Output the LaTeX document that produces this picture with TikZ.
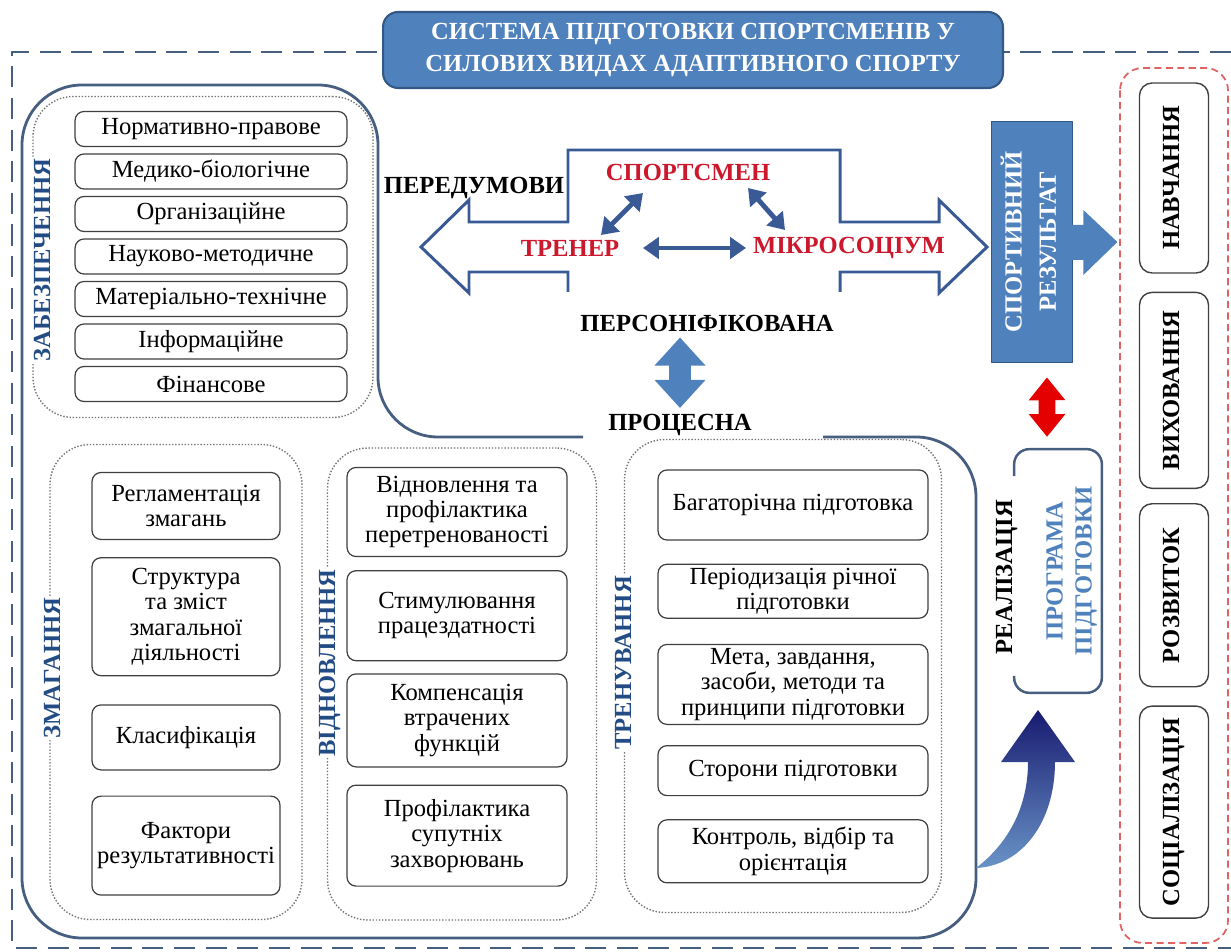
\documentclass[tikz,border=0pt]{standalone}
\usepackage{fontspec}
\setmainfont{Liberation Serif}
\usepackage{tikz}
\usetikzlibrary{arrows.meta, calc, positioning, shapes.geometric}

\definecolor{framegray}{RGB}{70,94,128}
\definecolor{boxblue}{RGB}{79,129,189}
\definecolor{boxedge}{RGB}{52,88,134}
\definecolor{labelblue}{RGB}{36,76,132}
\definecolor{arrowblue}{RGB}{58,90,150}
\definecolor{textred}{RGB}{204,24,44}
\definecolor{navyblue}{RGB}{24,26,112}
\definecolor{dashred}{RGB}{224,98,98}

\newcommand{\diagfont}{\fontsize{14}{14.5}\selectfont}
\newcommand{\vlabel}[1]{\rotatebox{90}{\begin{tabular}{@{}c@{}}#1\end{tabular}}}

\begin{document}
\begin{tikzpicture}[x=0.02cm, y=-0.02cm, font=\diagfont, line join=round,
  titlebox/.style={fill=boxblue, draw=boxedge, line width=1.2pt, rounded corners=0.3cm,
    minimum width=12.4cm, minimum height=1.52cm, align=center, text=white,
    font=\fontsize{14}{18.7}\selectfont\bfseries},
  item/.style={draw=black!75, fill=white, line width=0.7pt, rounded corners=0.18cm,
    align=center, inner sep=1pt},
  group/.style={draw=black!55, densely dotted, line width=0.8pt, rounded corners=0.8cm},
  grouplabel/.style={fill=white, text=labelblue, font=\diagfont\bfseries, inner sep=1pt},
  outcome/.style={draw=black!75, fill=white, line width=0.8pt, rounded corners=0.25cm,
    minimum width=1.38cm, font=\diagfont\bfseries},
  word/.style={font=\diagfont\bfseries},
  redword/.style={word, text=textred},
  resultbox/.style={fill=boxblue, draw=boxedge, line width=1pt, text=white,
    minimum width=1.62cm, minimum height=4.82cm, font=\diagfont\bfseries},
  outline/.style={draw=framegray, line width=1.6pt, rounded corners=1.2cm},
  bigarrow/.style={draw=arrowblue, line width=1.7pt, line join=miter},
  smallarrow/.style={draw=arrowblue, line width=2.8pt, line join=miter,
    {Triangle[length=9pt,width=12pt]}-{Triangle[length=9pt,width=12pt]}},
  bluedouble/.style={draw=boxblue, line width=12pt,
    {Triangle[length=16pt,width=28pt]}-{Triangle[length=16pt,width=28pt]}},
  redarrow/.style={draw=red!90!black, line width=9.5pt,
    {Triangle[length=13pt,width=20pt]}-{Triangle[length=13pt,width=20pt]}},
  ]
\useasboundingbox (0,0) rectangle (1231,952);

\draw[framegray, line width=1.6pt, dash pattern=on 12pt off 6pt] (1231,52) -- (12,52) -- (12,948) -- (1231,948);
\node[titlebox] (title) at (693,50) {СИСТЕМА ПІДГОТОВКИ СПОРТСМЕНІВ У\\СИЛОВИХ ВИДАХ АДАПТИВНОГО СПОРТУ};

\draw[outline] (583,437) -- (378,437) -- (378,85) -- (22,85) -- (22,938) -- (976,938) -- (976,437) -- (823,437);

\node[group, minimum width=6.8cm, minimum height=6.42cm] (zab) at (203,257) {};
\node[group, minimum width=5.04cm, minimum height=9.5cm] (zmag) at (176,682) {};
\node[group, minimum width=5.38cm, minimum height=9.44cm] (vidn) at (462,684) {};
\node[group, minimum width=6.34cm, minimum height=9.46cm] (tren) at (783,676) {};

\node[grouplabel] (zablabel) at (45,260) {\vlabel{ЗАБЕЗПЕЧЕННЯ}};
\node[grouplabel] (zmaglabel) at (55,668) {\vlabel{ЗМАГАННЯ}};
\node[grouplabel] (vidnlabel) at (330,663) {\vlabel{ВІДНОВЛЕННЯ}};
\node[grouplabel] (trenlabel) at (626,663) {\vlabel{ТРЕНУВАННЯ}};

\foreach \txt [count=\i] in {Нормативно-правове, Медико-біологічне, Організаційне,
    Науково-методичне, Матеріально-технічне, Інформаційне, Фінансове}
  \node[item, minimum width=5.44cm, minimum height=0.7cm] (sup\i) at (211,{129+42.5*(\i-1)}) {\txt};

\node[item, minimum width=3.76cm, minimum height=1.34cm] (zm1) at (186,506) {Регламентація\\змагань};
\node[item, minimum width=3.76cm, minimum height=2.36cm, below=0.34cm of zm1] (zm2) {Структура\\та зміст\\змагальної\\діяльності};
\node[item, minimum width=3.76cm, minimum height=1.3cm, below=0.56cm of zm2] (zm3) {Класифікація};
\node[item, minimum width=3.76cm, minimum height=1.98cm, below=0.5cm of zm3] (zm4) {Фактори\\результативності};

\node[item, minimum width=4.4cm, minimum height=1.78cm] (vd1) at (457,512) {Відновлення та\\профілактика\\перетренованості};
\node[item, minimum width=4.4cm, minimum height=1.8cm, below=0.26cm of vd1] (vd2) {Стимулювання\\працездатності};
\node[item, minimum width=4.4cm, minimum height=1.86cm, below=0.24cm of vd2] (vd3) {Компенсація\\втрачених\\функцій};
\node[item, minimum width=4.4cm, minimum height=2.02cm, below=0.34cm of vd3] (vd4) {Профілактика\\супутніх\\захворювань};

\node[item, minimum width=5.4cm, minimum height=1.4cm] (tr1) at (793,505) {Багаторічна підготовка};
\node[item, minimum width=5.4cm, minimum height=1.08cm, below=0.46cm of tr1] (tr2) {Періодизація річної\\підготовки};
\node[item, minimum width=5.4cm, minimum height=1.6cm, below=0.5cm of tr2] (tr3) {Мета, завдання,\\засоби, методи та\\принципи підготовки};
\node[item, minimum width=5.4cm, minimum height=1.0cm, below=0.4cm of tr3] (tr4) {Сторони підготовки};
\node[item, minimum width=5.4cm, minimum height=1.26cm, below=0.46cm of tr4] (tr5) {Контроль, відбір та\\орієнтація};

\draw[bigarrow] (568,292) -- (568,272) -- (469,272) -- (469,293) -- (421,247) -- (469,200) -- (469,222)
  -- (568,222) -- (568,150) -- (840,150) -- (840,222) -- (939,222) -- (939,200) -- (987,247)
  -- (939,293) -- (939,272) -- (840,272) -- (840,292);

\node[word] (pered) at (474,188) {ПЕРЕДУМОВИ};
\node[redword] (sport) at (688,172) {СПОРТСМЕН};
\node[redword] (trener) at (570,248) {ТРЕНЕР};
\node[redword] (mikro) at (849,248) {МІКРОСОЦІУМ};
\node[word] (person) at (707,323) {ПЕРСОНІФІКОВАНА};
\node[word] (process) at (680,425) {ПРОЦЕСНА};

\draw[smallarrow] ([shift={(-45,21)}]sport.center) -- ([shift={(31,-13)}]trener.center);
\draw[smallarrow] ([shift={(60,16)}]sport.center) -- ([shift={(-64,-18)}]mikro.center);
\draw[smallarrow] ([shift={(73,0)}]trener.center) -- ([shift={(-103,0)}]mikro.center);
\draw[bluedouble] (process.north) -- (process.north |- person.south);

\node[resultbox] (result) at (1032,242) {\vlabel{СПОРТИВНИЙ\\[5pt]РЕЗУЛЬТАТ}};
\fill[boxblue] (result.east) ++(-8,-17) -- ++(18,0) -- ++(0,-15) -- ++(34,32) -- ++(-34,33)
  -- ++(0,-15) -- ++(-18,0) -- cycle;

\node[minimum width=1.74cm, minimum height=4.86cm] (prog) at (1058,571) {};
\draw[draw=framegray, line width=1.4pt, rounded corners=0.3cm] (prog.north west) ++(0,27) -- (prog.north west)
  -- (prog.north east) -- (prog.south east) -- (prog.south west) -- ++(0,-17);
\node[word, text=boxblue] (progtext) at (1072,571) {\vlabel{ПРОГРАМА\\[2pt]ПІДГОТОВКИ}};
\node[word] (real) at (1007,577) {\vlabel{РЕАЛІЗАЦІЯ}};
\draw[redarrow, shorten <=8pt, shorten >=7pt] ([xshift=8.5pt]result.south) -- ([xshift=-6.2pt]prog.north);

\shade[top color=navyblue, bottom color=boxblue!85!white] (976,868) .. controls (1010,842) and (1028,805) .. (1028,762)
  -- (1001,762) -- (1038,710) -- (1075,762) -- (1055,762) .. controls (1055,822) and (1022,866) .. (976,868) -- cycle;

\draw[draw=dashred, line width=1pt, dash pattern=on 4pt off 2.5pt, rounded corners=0.45cm] (1120,68) rectangle (1228,943);
\node[outcome, minimum height=3.8cm] (learn) at (1174,178) {\vlabel{НАВЧАННЯ}};
\node[outcome, minimum height=3.92cm, below=0.36cm of learn] (educ) {\vlabel{ВИХОВАННЯ}};
\node[outcome, minimum height=3.66cm, below=0.28cm of educ] (devel) {\vlabel{РОЗВИТОК}};
\node[outcome, minimum height=4.24cm, below=0.36cm of devel] (social) {\vlabel{СОЦІАЛІЗАЦІЯ}};
\end{tikzpicture}
\end{document}
